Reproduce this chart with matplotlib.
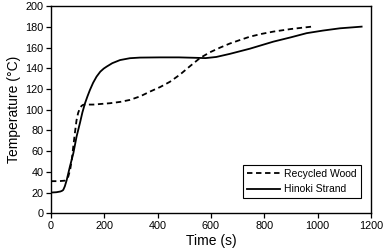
import numpy as np
import matplotlib.pyplot as plt

plt.rcParams['font.family'] = ['Liberation Sans', 'DejaVu Sans']

# Hinoki Strand (solid)
hinoki_t = [0, 20, 35, 41, 46, 52, 59, 65, 71, 84, 96, 109, 118, 128, 137,
            146, 158, 171, 185, 198, 209, 230, 259, 296, 334, 409, 480, 540,
            580, 620, 671, 746, 834, 900, 959, 1020, 1084, 1130, 1165]
hinoki_T = [20, 20.3, 21, 21.6, 22.5, 26, 32, 38.5, 45, 58, 74, 87.5, 97.5,
            106.5, 113, 119, 126, 132, 136.8, 139.8, 141.7, 145, 148, 149.8,
            150.4, 150.6, 150.6, 150.2, 149.9, 151, 154, 159, 165.8, 170, 174,
            176.5, 178.7, 179.6, 180.3]

# Recycled Wood (dashed)
recycled_t = [0, 30, 52, 58, 65, 72, 78, 84, 90, 96, 102, 109, 115, 121, 135,
              159, 221, 260, 296, 335, 371, 410, 446, 484, 521, 559, 596, 634,
              671, 709, 746, 790, 834, 900, 978]
recycled_T = [31, 31, 31.5, 33, 35.5, 42, 51.6, 65, 78, 90, 97, 101.7, 103.8,
              104.8, 105, 105, 106.3, 107.6, 109.5, 113, 117.5, 122, 127, 134,
              142, 150, 155.5, 160, 164, 167.4, 170.6, 173.3, 175.5, 178,
              180.3]

fig = plt.figure(figsize=(3.86, 2.5), dpi=100)
ax = fig.add_axes([0.132, 0.147, 0.829, 0.828])

ax.plot(recycled_t, recycled_T, color='black', lw=1.3, linestyle=(0, (3, 2)),
        label='Recycled Wood')
ax.plot(hinoki_t, hinoki_T, color='black', lw=1.3, label='Hinoki Strand')

ax.set_xlim(0, 1200)
ax.set_ylim(0, 200)
ax.set_xticks(np.arange(0, 1201, 200))
ax.set_yticks(np.arange(0, 201, 20))
ax.tick_params(direction='out', length=3.5, width=0.9, labelsize=7.8,
               top=False, right=False, pad=2)
for s in ax.spines.values():
    s.set_linewidth(1.0)

ax.set_xlabel('Time (s)', fontsize=10, labelpad=2)
ax.set_ylabel('Temperature (°C)', fontsize=10, labelpad=3)

leg = ax.legend(loc='lower right', bbox_to_anchor=(0.968, 0.072),
                borderaxespad=0, fontsize=7.5, handlelength=3.1,
                fancybox=False, framealpha=1, edgecolor='black',
                borderpad=0.4, labelspacing=0.5, handletextpad=0.4)
leg.get_frame().set_linewidth(0.8)

fig.savefig('out.png', dpi=100)
